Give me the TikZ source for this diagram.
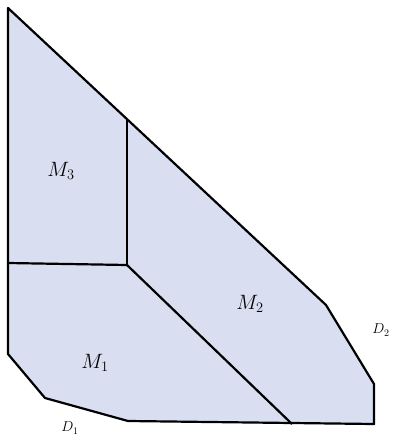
\documentclass[tikz,border=0pt]{standalone}
\usepackage{amsmath,amssymb}
\usepackage{xcolor}
\usepackage{tikz}
\usetikzlibrary{calc}
\definecolor{regFill}{HTML}{D9DFF1}

\begin{document}
\begin{tikzpicture}[
        x=1pt, y=-1pt, line join=round,
        edge/.style={line width=2.2pt, black},
        mlab/.style={font=\huge, inner sep=0pt},
        dlab/.style={font=\Large, inner sep=0pt}]
        \useasboundingbox (0,0) rectangle (393,436);
        % outer boundary
        \coordinate (tl) at (8,8);
        \coordinate (lb) at (8,354);
        \coordinate (c1) at (45,398);
        \coordinate (c2) at (128,421);
        \coordinate (br) at (374,424);
        \coordinate (rt) at (374,384);
        \coordinate (c3) at (326,305);
        % inner points
        \coordinate (top) at (127,119);
        \coordinate (mid) at (127,265);
        \coordinate (lft) at (8,263);
        \coordinate (bot) at (292,424);
        \fill[regFill] (tl) -- (lb) -- (c1) -- (c2) -- (br) -- (rt) -- (c3) -- cycle;
        \draw[edge] (tl) -- (lb) -- (c1) -- (c2) -- (br) -- (rt) -- (c3) -- cycle;
        \draw[edge] (top) -- (mid); \draw[edge] (lft) -- (mid); \draw[edge] (mid) -- (bot);
        \node[mlab] (m3) at (61,171) {$M_3$};
        \node[mlab] (m2) at (250,304) {$M_2$};
        \node[mlab] (m1) at (95,363) {$M_1$};
        \node[dlab] (d1) at (70,428) {$D_1$};
        \node[dlab] (d2) at (381,330) {$D_2$};
      \end{tikzpicture}
\end{document}
